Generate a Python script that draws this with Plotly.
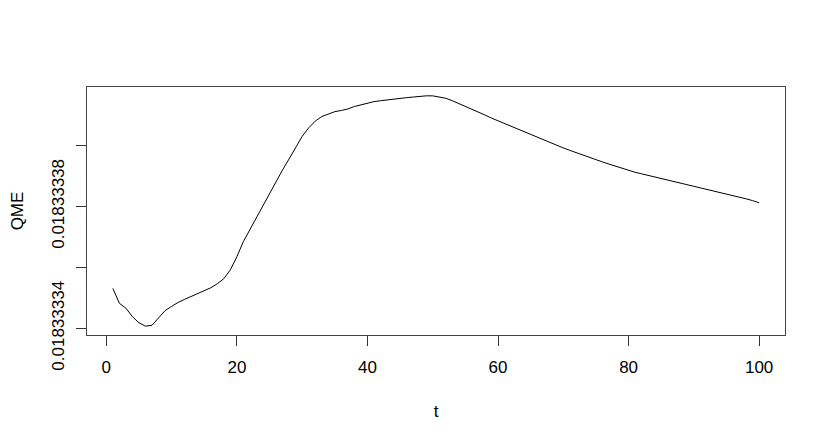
import plotly.graph_objects as go

t = list(range(1, 101))
qme = [
    0.0183333531, 0.0183333482, 0.0183333466, 0.0183333438, 0.0183333418,
    0.0183333407, 0.0183333410, 0.0183333433, 0.0183333458, 0.0183333472,
    0.0183333485, 0.0183333495, 0.0183333505, 0.0183333514, 0.0183333523,
    0.0183333533, 0.0183333546, 0.0183333563, 0.0183333592, 0.0183333635,
    0.0183333685, 0.0183333725, 0.0183333765, 0.0183333805, 0.0183333843,
    0.0183333882, 0.0183333920, 0.0183333956, 0.0183333995, 0.0183334030,
    0.0183334058, 0.0183334080, 0.0183334095, 0.0183334104, 0.0183334111,
    0.0183334115, 0.0183334120, 0.0183334128, 0.0183334134, 0.0183334140,
    0.0183334144, 0.0183334147, 0.0183334150, 0.0183334153, 0.0183334155,
    0.0183334157, 0.0183334159, 0.0183334162, 0.0183334163, 0.0183334163,
    0.0183334160, 0.0183334155, 0.0183334147, 0.0183334138, 0.0183334128,
    0.0183334118, 0.0183334109, 0.0183334100, 0.0183334090, 0.0183334081,
    0.0183334072, 0.0183334063, 0.0183334053, 0.0183334044, 0.0183334035,
    0.0183334026, 0.0183334017, 0.0183334009, 0.0183334001, 0.0183333992,
    0.0183333984, 0.0183333976, 0.0183333968, 0.0183333960, 0.0183333953,
    0.0183333946, 0.0183333939, 0.0183333932, 0.0183333925, 0.0183333918,
    0.0183333912, 0.0183333907, 0.0183333902, 0.0183333897, 0.0183333892,
    0.0183333887, 0.0183333882, 0.0183333877, 0.0183333872, 0.0183333867,
    0.0183333862, 0.0183333857, 0.0183333851, 0.0183333846, 0.0183333841,
    0.0183333836, 0.0183333831, 0.0183333825, 0.0183333819, 0.0183333812,
]

x_ticks = [0, 20, 40, 60, 80, 100]
y_ticks = [0.01833334, 0.01833336, 0.01833338, 0.01833340]
y_tick_text = ["0.01833334", "", "0.01833338", ""]

font = dict(family="Liberation Sans, Arial, sans-serif", size=17, color="black")

fig = go.Figure()
fig.add_trace(go.Scatter(x=t, y=qme, mode="lines",
                         line=dict(color="black", width=1), hoverinfo="skip"))

# page body has an 8px default margin, so the figure is offset by (8, 8)
fig.update_layout(
    width=822, height=436,
    margin=dict(l=79, r=45, t=79, b=109),
    paper_bgcolor="white", plot_bgcolor="white",
    showlegend=False,
    font=font,
)
fig.update_xaxes(
    range=[-2.96, 103.96], tickvals=x_ticks, ticktext=[str(v) for v in x_ticks],
    automargin=False,
    showgrid=False, zeroline=False, showline=True, mirror=True,
    linecolor="#444", linewidth=1, ticks="outside", ticklen=10,
    tickcolor="#333", tickfont=font, ticklabelstandoff=7,
    title=dict(text="t", font=font, standoff=28),
)
fig.update_yaxes(
    range=[0.0183333378, 0.0183334192], tickvals=y_ticks, ticktext=y_tick_text,
    tickangle=-90, automargin=False,
    showgrid=False, zeroline=False, showline=True, mirror=True,
    linecolor="#444", linewidth=1, ticks="outside", ticklen=10,
    tickcolor="#333", tickfont=font, ticklabelstandoff=5,
    title=dict(text="QME", font=font, standoff=24),
)

fig.write_html("out.html")
